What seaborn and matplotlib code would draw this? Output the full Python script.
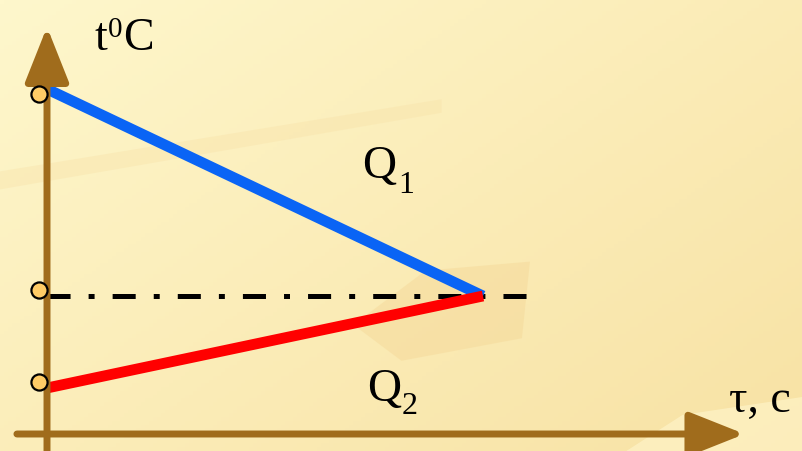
import numpy as np
import pandas as pd
import matplotlib
matplotlib.use('Agg')
import matplotlib.pyplot as plt
import seaborn as sns
from matplotlib.patches import FancyArrowPatch

# time axis (arbitrary units) and temperatures
tau = [0, 10]
t_hot = [75, 30]      # Q1 - cooling body
t_cold = [10, 30]     # Q2 - heated body
t_eq = 30
tau_eq_end = 11.1

# starting temperatures marked on the t axis
mark_tau = [-0.18, -0.18, -0.18]
mark_t = [74, 31.3, 11.3]

brown = '#A06C1C'

sns.set_style('white')
plt.rcParams['lines.scale_dashes'] = False

fig = plt.figure(figsize=(8.03, 4.51), dpi=100)

# parchment-like background
bg = fig.add_axes([0, 0, 1, 1], zorder=0)
gx, gy = np.meshgrid(np.linspace(0, 1, 200), np.linspace(0, 1, 120))
g = np.clip(0.55 * gx + 0.45 * gy, 0, 1)
c0 = np.array([254, 247, 204]) / 255
c1 = np.array([248, 226, 164]) / 255
img = c0[None, None, :] * (1 - g[..., None]) + c1[None, None, :] * g[..., None]
bg.imshow(img, extent=[0, 1, 0, 1], aspect='auto', origin='upper')
# a few faint streaks like the textured paper
bg.fill([0.53, 0.66, 0.65, 0.50, 0.44], [0.40, 0.42, 0.25, 0.20, 0.28],
        color='#F5D99A', alpha=0.5, lw=0)
bg.fill([0.0, 0.55, 0.55, 0.0], [0.62, 0.78, 0.75, 0.58],
        color='#F8E0A6', alpha=0.35, lw=0)
bg.fill([0.78, 1.0, 1.0, 0.85], [0.0, 0.0, 0.12, 0.08],
        color='#FFF6CC', alpha=0.6, lw=0)
bg.set_xlim(0, 1)
bg.set_ylim(0, 1)
bg.axis('off')

ax = fig.add_axes([0, 0, 1, 1], zorder=1)
ax.patch.set_alpha(0)

df = pd.DataFrame({'tau': tau + tau, 't': t_hot + t_cold,
                   'body': ['Q1'] * 2 + ['Q2'] * 2})

# dash-dot equilibrium line
ax.plot([0, tau_eq_end], [t_eq, t_eq], color='black', lw=3.6,
        dashes=(16.6, 13, 4.3, 13), zorder=2)

sns.lineplot(data=df, x='tau', y='t', hue='body',
             palette={'Q1': '#0A64F5', 'Q2': '#FF0000'},
             lw=7.8, legend=False, ax=ax, zorder=3)
for ln in ax.get_lines()[1:]:
    ln.set_solid_capstyle('butt')

# axes arrows
for a, b in [((-0.69, 0), (16.0, 0)), ((0, -4), (0, 88.5))]:
    arr = FancyArrowPatch(a, b, arrowstyle='-|>,head_length=34,head_width=13.5',
                          mutation_scale=1, lw=5, color=brown,
                          shrinkA=0, shrinkB=0, zorder=4)
    ax.add_patch(arr)

sns.scatterplot(x=mark_tau, y=mark_t, s=135, color='#FFCC66',
                edgecolor='black', linewidth=1.6, ax=ax, zorder=5)

ax.set_xlim(-1.078, 17.34)
ax.set_ylim(-3.696, 94.35)
ax.axis('off')

tf = dict(family='Liberation Serif', color='black', transform=ax.transAxes,
          va='baseline')
W, H = 803, 451
ax.text(95 / W, 1 - 50 / H, 't', fontsize=33, **tf)
ax.text(108 / W, 1 - 37 / H, '0', fontsize=21, **tf)
ax.text(123 / W, 1 - 50 / H, 'C', fontsize=33, **tf)
ax.text(362 / W, 1 - 178 / H, 'Q', fontsize=34, **tf)
ax.text(398 / W, 1 - 193 / H, '1', fontsize=23, **tf)
ax.text(367 / W, 1 - 401 / H, 'Q', fontsize=34, **tf)
ax.text(402 / W, 1 - 414 / H, '2', fontsize=23, **tf)
ax.text(729 / W, 1 - 412 / H, 'τ, c', fontsize=33, **tf)

fig.savefig('out.png', dpi=100)
